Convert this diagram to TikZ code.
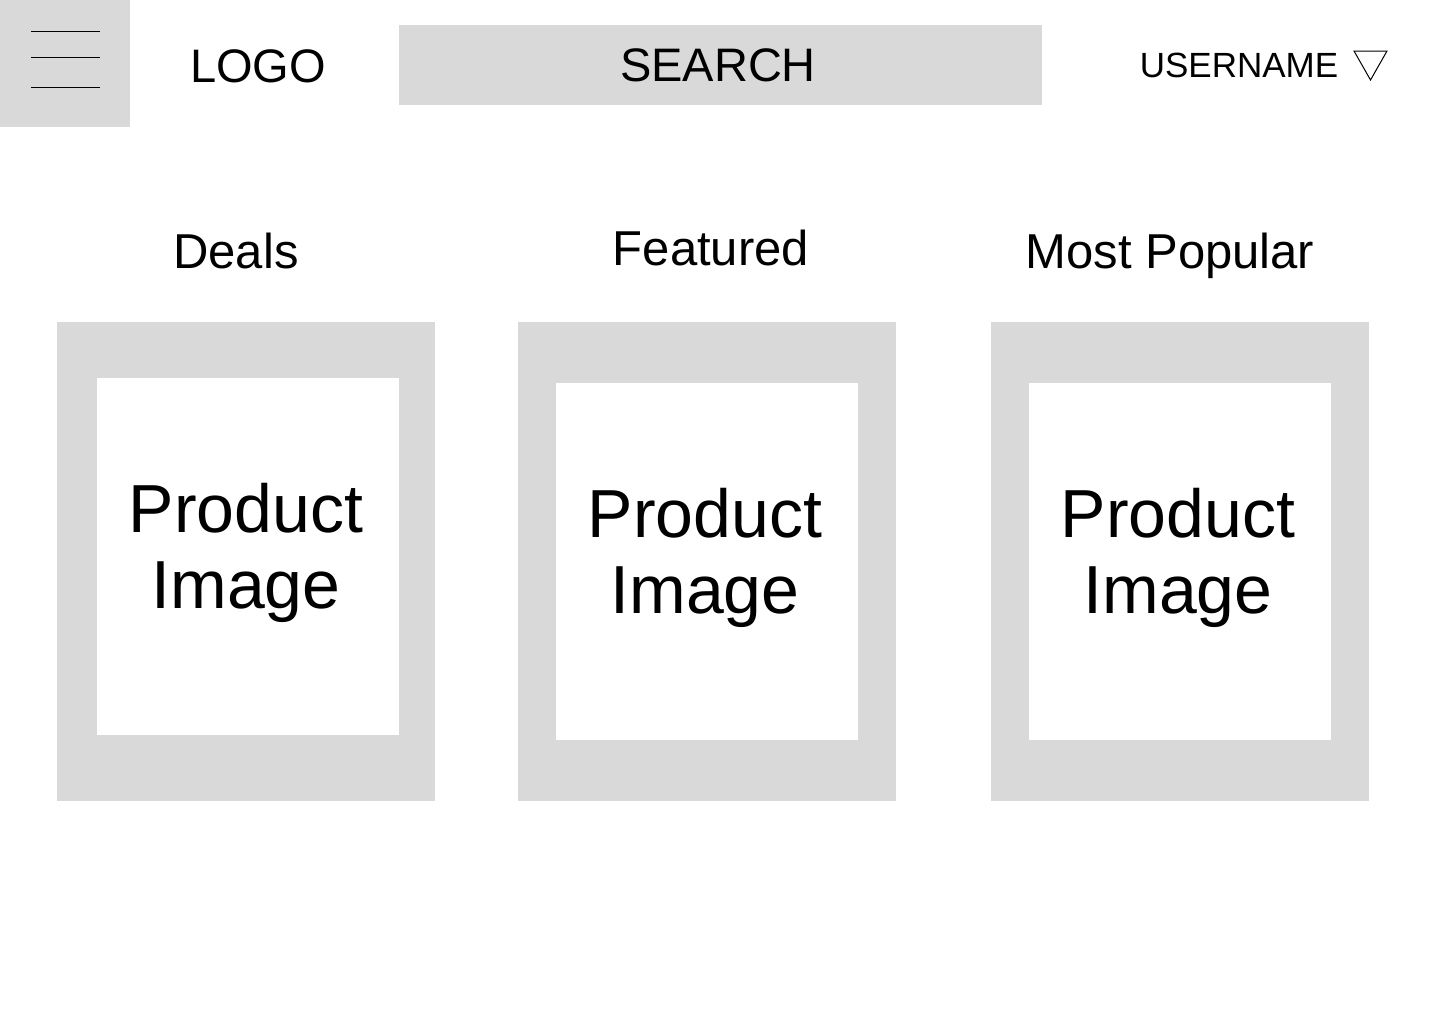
\documentclass[tikz,border=0pt]{standalone}
\usepackage{fontspec}
\setmainfont{Liberation Sans}
\usepackage{tikz}
\usetikzlibrary{calc}
\definecolor{panelgray}{HTML}{D9D9D9}

\begin{document}
\begin{tikzpicture}[x=0.5pt, y=-0.5pt,
        panel_style/.style={fill=panelgray},
        photo_style/.style={fill=white},
        line_style/.style={draw=black, line width=0.5pt},
        head_style/.style={inner sep=0pt, anchor=base, font=\fontsize{23.5}{28}\selectfont},
        user_style/.style={inner sep=0pt, anchor=base, font=\fontsize{17.5}{21}\selectfont},
        title_style/.style={inner sep=0pt, anchor=base, font=\fontsize{24.5}{29}\selectfont},
        photo_text_style/.style={inner sep=0pt, align=center, font=\fontsize{34}{38}\selectfont}]

        \useasboundingbox (0,0) rectangle (1440,1024);

        % top bar
        \fill [panel_style] (0,0) rectangle (130,127);

        \coordinate (m1a) at (31,31);  \coordinate (m1b) at (100,31);
        \coordinate (m2a) at (31,57);  \coordinate (m2b) at (100,57);
        \coordinate (m3a) at (31,87);  \coordinate (m3b) at (100,87);

        \draw [line_style] (m1a) -- (m1b);

        \draw [line_style] (m2a) -- (m2b);

        \draw [line_style] (m3a) -- (m3b);

        \node [head_style](logo) at (258,82) {LOGO};

        \fill [panel_style] (399,25) rectangle (1042,105);

        \node [head_style](search) at (718,81) {SEARCH};

        \node [user_style](user) at (1239,77) {USERNAME};

        \coordinate (t1) at (1354,51);
        \coordinate (t2) at (1387,51);
        \coordinate (t3) at (1370.5,80);

        \draw [line_style, line join=miter] (t1) -- (t2) -- (t3) -- cycle;

        % section titles
        \node [title_style](deals) at (236,268) {Deals};

        \node [title_style](featured) at (711,265) {Featured};

        \node [title_style](popular) at (1170,268) {Most Popular};

        % product cards
        \fill [panel_style] (57,322) rectangle (435,801);
        \fill [photo_style] (97,378) rectangle (399,735);

        \fill [panel_style] (518,322) rectangle (896,801);
        \fill [photo_style] (556,383) rectangle (858,740);

        \fill [panel_style] (991,322) rectangle (1369,801);
        \fill [photo_style] (1029,383) rectangle (1331,740);

        \node [photo_text_style](p1) at (246,553) {Product\\Image};

        \node [photo_text_style](p2) at (705,558) {Product\\Image};

        \node [photo_text_style](p3) at (1178,558) {Product\\Image};

        \end{tikzpicture}
\end{document}
